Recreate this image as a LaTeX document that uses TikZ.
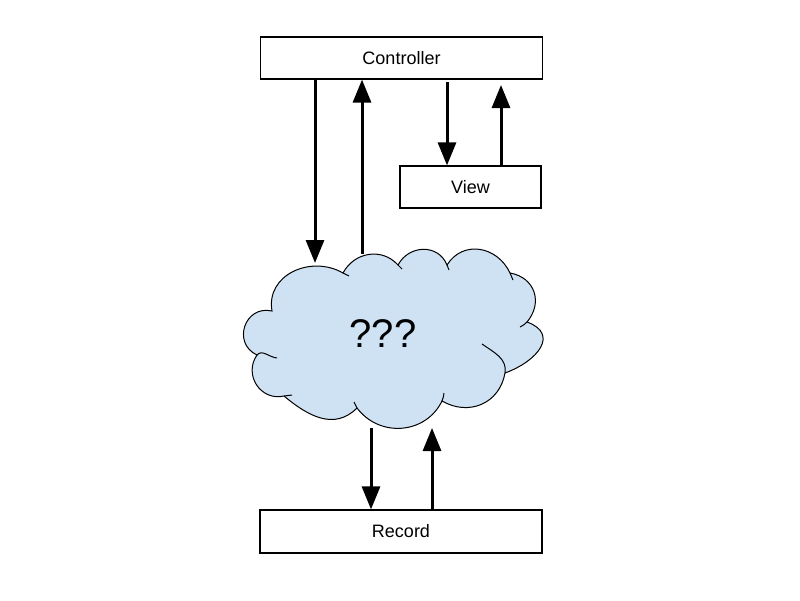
\documentclass[tikz,border=0pt]{standalone}
\usepackage{fontspec}
\setmainfont{Liberation Sans}
\usetikzlibrary{arrows.meta}
\definecolor{cloudblue}{HTML}{CFE2F3}
\begin{document}
\begin{tikzpicture}[x=1pt,y=1pt,
  box/.style={draw=black,line width=1.2pt,inner sep=0pt,font=\fontsize{18}{20}\selectfont},
  arr/.style={line width=3pt,-{Triangle[width=18pt,length=23pt]}},
  cloudline/.style={draw=black,line width=1pt}]
\useasboundingbox (0,0) rectangle (800,-600);
% cloud outline
\path[fill=cloudblue,cloudline]
  (272,-311) to[out=100,in=150,looseness=1.17] (343,-273)
  to[out=62,in=132,looseness=1.1] (398,-265)
  to[out=62,in=112,looseness=1.21] (447,-265)
  to[out=58,in=115,looseness=1.2] (510,-273)
  to[out=-10,in=50,looseness=1.25] (527,-322)
  to[out=-20,in=20,looseness=1.6] (505,-373)
  to[out=-100,in=-30,looseness=1.15] (442,-401)
  to[out=-116,in=-53,looseness=1.12] (357,-408)
  to[out=-135,in=-40,looseness=1.1] (284,-396)
  to[out=193,in=235,looseness=1.25] (257,-355)
  to[out=155,in=167,looseness=1.54] (272,-311) -- cycle;
% inner curls
\draw[cloudline] (505,-373) to[out=80,in=-35] (482,-344);
\draw[cloudline] (257,-355) to[out=50,in=175] (277,-358);
\draw[cloudline] (284,-396) to[out=10,in=185] (292,-395);
\draw[cloudline] (527,-322) to[out=230,in=30] (520,-327);
\draw[cloudline] (510,-273) to[out=-65,in=110] (513,-280);
\draw[cloudline] (343,-273) to[out=-30,in=160] (349,-276);
\draw[cloudline] (398,-265) to[out=-48,in=130] (402,-269);
\draw[cloudline] (447,-265) to[out=-68,in=110] (449,-270);
\draw[cloudline] (442,-401) to[out=64,in=-100] (444,-393);
\draw[cloudline] (357,-408) to[out=127,in=-60] (354,-402);
\node (cloud) at (383,-334) {\fontsize{40}{44}\selectfont ???};
% boxes
\node[box,minimum width=282pt,minimum height=42pt] (ctrl) at (401.5,-58) {Controller};
\node[box,minimum width=141pt,minimum height=42pt] (view) at (470.5,-187) {View};
\node[box,minimum width=282pt,minimum height=43pt] (record) at (401,-531.5) {Record};
% free ends
\coordinate (a1) at (315,-263);
\coordinate (a2) at (362,-254);
\coordinate (a3) at (447,-82);
\coordinate (a4) at (501,-85);
\coordinate (a5) at (371,-428);
\coordinate (a6) at (432,-428);
% arrows
\draw[arr] (ctrl.south -| a1) -- (a1);
\draw[arr] (a2) -- (ctrl.south -| a2);
\draw[arr] (a3) -- (view.north -| a3);
\draw[arr] (view.north -| a4) -- (a4);
\draw[arr] (a5) -- (record.north -| a5);
\draw[arr] (record.north -| a6) -- (a6);
\end{tikzpicture}
\end{document}
